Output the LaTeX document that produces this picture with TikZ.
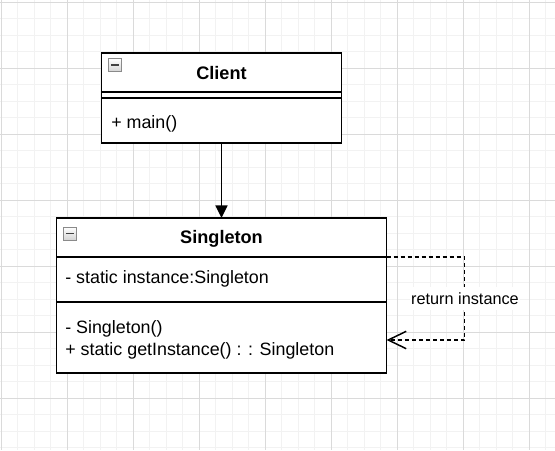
\documentclass[tikz,border=0pt]{standalone}
\usepackage{fontspec}
\setmainfont{Liberation Sans}
\usetikzlibrary{arrows.meta}
\definecolor{gridminor}{HTML}{F2F2F2}
\definecolor{gridmajor}{HTML}{DADADA}
\definecolor{iconfill}{HTML}{D4D4D4}
\definecolor{iconborder}{HTML}{8A8A8A}
\tikzset{
  sect/.style={draw=black, line width=1.2pt, fill=white, anchor=north west, inner sep=0pt, outer sep=0pt},
  titletext/.style={anchor=base, inner sep=0pt, font=\fontsize{13.6pt}{15pt}\selectfont\bfseries},
  membertext/.style={anchor=base west, inner sep=0pt, font=\fontsize{13.4pt}{15pt}\selectfont},
  labeltext/.style={anchor=base, fill=white, inner xsep=1pt, inner ysep=4pt, font=\fontsize{12.2pt}{14pt}\selectfont},
  collapseicon/.style={draw=iconborder, line width=0.6pt, top color=white, bottom color=iconfill, anchor=north west, minimum width=9.75pt, minimum height=9.75pt, inner sep=0pt},
  assoc/.style={line width=1.2pt, -{Triangle[length=9.5pt, width=9pt]}},
  dep/.style={line width=1.1pt, dash pattern=on 3pt off 2.25pt, -{Straight Barb[length=13.5pt, width=13pt, line width=1.1pt]}}
}
\begin{document}
\begin{tikzpicture}[x=0.75pt, y=-0.75pt]
\useasboundingbox (0,0) rectangle (555,450);
\fill[white] (0,0) rectangle (555,450);
% grid
\foreach \i in {0,...,33} {
  \pgfmathsetmacro{\gx}{1.3+16.5*\i}
  \draw[gridminor, line width=0.75pt] (\gx,0) -- (\gx,450);
}
\foreach \i in {0,...,27} {
  \pgfmathsetmacro{\gy}{2.3+16.5*\i}
  \draw[gridminor, line width=0.75pt] (0,\gy) -- (555,\gy);
}
\foreach \i in {0,...,8} {
  \pgfmathsetmacro{\gx}{1.3+66*\i}
  \draw[gridmajor, line width=0.75pt] (\gx,0) -- (\gx,450);
}
\foreach \i in {0,...,6} {
  \pgfmathsetmacro{\gy}{2.3+66*\i}
  \draw[gridmajor, line width=0.75pt] (0,\gy) -- (555,\gy);
}

% Client class
\node[sect, minimum width=180pt, minimum height=29.25pt] (ctitle) at (101.5,53) {};
\node[sect, minimum width=180pt, minimum height=4.5pt] (cattr) at (101.5,92) {};
\node[sect, minimum width=180pt, minimum height=33.75pt] (cmeth) at (101.5,98) {};
\node[collapseicon] (cicon) at (108.3,58) {};
\draw[black!75, line width=1.2pt] ([xshift=2pt]cicon.west) -- ([xshift=-2pt]cicon.east);
\node[titletext] (cname) at (221.5,79.3) {Client};
\node[membertext] (cm1) at (111,128.5) {+ main()};

% Singleton class
\node[sect, minimum width=247.5pt, minimum height=29.25pt] (stitle) at (56.5,218) {};
\node[sect, minimum width=247.5pt, minimum height=33.75pt] (sattr) at (56.5,257) {};
\node[sect, minimum width=247.5pt, minimum height=53.25pt] (smeth) at (56.5,302) {};
\node[collapseicon] (sicon) at (63.3,226.5) {};
\draw[black!75, line width=1.2pt] ([xshift=2pt]sicon.west) -- ([xshift=-2pt]sicon.east);
\node[titletext] (sname) at (221.5,243.3) {Singleton};
\node[membertext] (sa1) at (65,283.3) {- static instance:Singleton};
\node[membertext] (sm1) at (65,333.3) {- Singleton()};
\node[membertext] (sm2) at (65,355.7) {+ static getInstance() : : Singleton};

% connectors
\draw[assoc] (cmeth.south) -- (stitle.north);
\coordinate (d0) at (stitle.south east);
\coordinate (d1) at (464.5,257);
\coordinate (d2) at (464.5,340);
\coordinate (d3) at (386.5,340);
\draw[dep] (d0) -- (d1) -- (d2) -- (d3);
\node[labeltext] (lbl) at (465,304) {return instance};
\end{tikzpicture}
\end{document}
